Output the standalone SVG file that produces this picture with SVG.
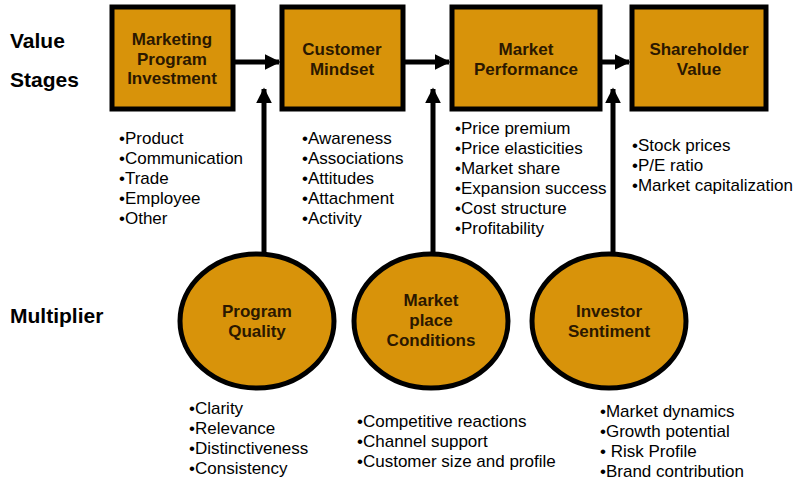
<svg xmlns="http://www.w3.org/2000/svg" width="800" height="485" viewBox="0 0 800 485">
<defs>
<marker id="ah" viewBox="0 0 10 10" refX="9" refY="5" markerWidth="3.2" markerHeight="3.2" orient="auto" markerUnits="strokeWidth">
<path d="M0,0 L10,5 L0,10 Z" fill="#000"/>
</marker>
<style>
.box{fill:#D8930A;stroke:#000;stroke-width:5}
.lbl{font-family:"Liberation Sans",Arial,sans-serif;font-weight:bold;font-size:17px;fill:#2b1800;text-anchor:middle}
.side{font-family:"Liberation Sans",Arial,sans-serif;font-weight:bold;font-size:21px;fill:#000}
.li{font-family:"Liberation Sans",Arial,sans-serif;font-size:17px;fill:#000}
.con{stroke:#000;stroke-width:5;fill:none;marker-end:url(#ah)}
</style>
</defs>
<rect width="800" height="485" fill="#fff"/>
<text class="side" x="10" y="48">Value</text>
<text class="side" x="10" y="87">Stages</text>
<text class="side" x="10" y="323">Multiplier</text>
<g id="connectors">
<line class="con" x1="234" y1="62" x2="279" y2="62"/>
<line class="con" x1="405" y1="62" x2="449" y2="62"/>
<line class="con" x1="602" y1="62" x2="629" y2="62"/>
<line class="con" x1="264" y1="254" x2="264" y2="89"/>
<line class="con" x1="433" y1="254" x2="433" y2="89"/>
<line class="con" x1="613" y1="254" x2="613" y2="89"/>
</g>
<g id="n-mpi">
<rect class="box" x="112" y="7" width="121" height="102"/>
<text class="lbl" x="172" y="45">Marketing</text>
<text class="lbl" x="172" y="65">Program</text>
<text class="lbl" x="172" y="84">Investment</text>
</g>
<g id="n-cm">
<rect class="box" x="282" y="7" width="121" height="102"/>
<text class="lbl" x="342" y="55">Customer</text>
<text class="lbl" x="342" y="75">Mindset</text>
</g>
<g id="n-mp">
<rect class="box" x="452" y="7" width="148" height="102"/>
<text class="lbl" x="526" y="55">Market</text>
<text class="lbl" x="526" y="75">Performance</text>
</g>
<g id="n-sv">
<rect class="box" x="632" y="7" width="134" height="102"/>
<text class="lbl" x="699" y="55">Shareholder</text>
<text class="lbl" x="699" y="75">Value</text>
</g>
<g id="n-pq">
<ellipse class="box" cx="257" cy="321" rx="77" ry="67"/>
<text class="lbl" x="257" y="317">Program</text>
<text class="lbl" x="257" y="337">Quality</text>
</g>
<g id="n-mc">
<ellipse class="box" cx="431" cy="321" rx="77" ry="67"/>
<text class="lbl" x="431" y="306">Market</text>
<text class="lbl" x="431" y="326">place</text>
<text class="lbl" x="431" y="346">Conditions</text>
</g>
<g id="n-is">
<ellipse class="box" cx="609" cy="321" rx="77" ry="67"/>
<text class="lbl" x="609" y="317">Investor</text>
<text class="lbl" x="609" y="337">Sentiment</text>
</g>
<g id="list-mpi" class="li">
<text x="119" y="144">•Product</text>
<text x="119" y="164">•Communication</text>
<text x="119" y="184">•Trade</text>
<text x="119" y="204">•Employee</text>
<text x="119" y="224">•Other</text>
</g>
<g id="list-cm" class="li">
<text x="302" y="144">•Awareness</text>
<text x="302" y="164">•Associations</text>
<text x="302" y="184">•Attitudes</text>
<text x="302" y="204">•Attachment</text>
<text x="302" y="224">•Activity</text>
</g>
<g id="list-mp" class="li">
<text x="455" y="134">•Price premium</text>
<text x="455" y="154">•Price elasticities</text>
<text x="455" y="174">•Market share</text>
<text x="455" y="194">•Expansion success</text>
<text x="455" y="214">•Cost structure</text>
<text x="455" y="234">•Profitability</text>
</g>
<g id="list-sv" class="li">
<text x="632" y="151">•Stock prices</text>
<text x="632" y="171">•P/E ratio</text>
<text x="632" y="191">•Market capitalization</text>
</g>
<g id="list-pq" class="li">
<text x="189" y="414">•Clarity</text>
<text x="189" y="434">•Relevance</text>
<text x="189" y="454">•Distinctiveness</text>
<text x="189" y="474">•Consistency</text>
</g>
<g id="list-mc" class="li">
<text x="357" y="427">•Competitive reactions</text>
<text x="357" y="447">•Channel support</text>
<text x="357" y="467">•Customer size and profile</text>
</g>
<g id="list-is" class="li">
<text x="600" y="417">•Market dynamics</text>
<text x="600" y="437">•Growth potential</text>
<text x="600" y="457">• Risk Profile</text>
<text x="600" y="477">•Brand contribution</text>
</g>
</svg>
